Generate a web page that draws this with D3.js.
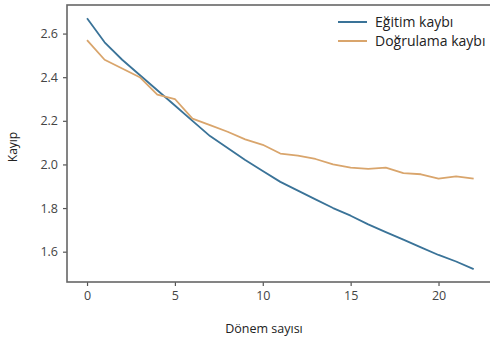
<!DOCTYPE html>
<html><head><meta charset="utf-8">
<script src="https://cdn.jsdelivr.net/npm/d3@7"></script>
<style>
html,body{margin:0;padding:0;background:#fff;}
svg{display:block;}
text{font-family:"Open Sans","Noto Sans",sans-serif;}
</style></head>
<body>
<svg id="c" width="490" height="343"></svg>
<script>
const epochs = d3.range(0, 23);
const trainLoss = [2.67,2.56,2.48,2.41,2.34,2.27,2.20,2.13,2.075,2.02,1.97,1.92,1.88,1.84,1.80,1.765,1.725,1.69,1.655,1.62,1.585,1.555,1.52];
const valLoss = [2.57,2.48,2.44,2.40,2.32,2.30,2.21,2.18,2.15,2.115,2.09,2.05,2.04,2.025,2.00,1.985,1.98,1.985,1.96,1.955,1.935,1.945,1.935];
const xTicks = [0,5,10,15,20];
const yTicks = [1.6,1.8,2.0,2.2,2.4,2.6];
const seriesNames = ["Eğitim kaybı","Doğrulama kaybı"];
const colors = ["#3a7398","#d9a56c"];

const svg = d3.select("#c");
const L = 67, R = 493, T = 5, B = 282;
const x = d3.scaleLinear().domain([-1.14, 23.1]).range([L, R]);
const y = d3.scaleLinear().domain([1.461, 2.731]).range([B, T]);

const tickCol = "#555";
const xa = svg.append("g").attr("transform", `translate(0,${B})`)
  .call(d3.axisBottom(x).tickValues(xTicks).tickFormat(d3.format("d")).tickSize(4).tickPadding(5));
const ya = svg.append("g").attr("transform", `translate(${L},0)`)
  .call(d3.axisLeft(y).tickValues(yTicks).tickFormat(d3.format(".1f")).tickSize(4).tickPadding(5));
[xa, ya].forEach(a => {
  a.select(".domain").remove();
  a.selectAll(".tick line").attr("stroke", tickCol).attr("stroke-width", 1.2);
  a.selectAll(".tick text").attr("fill", "#444").attr("font-size", 12.5).attr("font-family", '"Open Sans",sans-serif');
});

svg.append("rect").attr("x", L).attr("y", T).attr("width", R - L).attr("height", B - T)
  .attr("fill", "none").attr("stroke", "#666").attr("stroke-width", 1.6);

const line = d3.line().x((d, i) => x(epochs[i])).y(d => y(d));
[trainLoss, valLoss].forEach((s, k) => {
  svg.append("path").datum(s).attr("d", line).attr("fill", "none")
    .attr("stroke", colors[k]).attr("stroke-width", 1.8).attr("stroke-linejoin", "round");
});

const lg = svg.append("g");
seriesNames.forEach((n, k) => {
  const yy = 22 + k * 19;
  lg.append("line").attr("x1", 338).attr("x2", 367).attr("y1", yy).attr("y2", yy)
    .attr("stroke", colors[k]).attr("stroke-width", 2);
  lg.append("text").attr("x", 375).attr("y", yy + 5).attr("font-size", 14).attr("fill", "#222").text(n);
});

svg.append("text").attr("x", 264).attr("y", 333).attr("text-anchor", "middle")
  .attr("font-size", 12.5).attr("fill", "#222").text("Dönem sayısı");
svg.append("text").attr("transform", "translate(17,147) rotate(-90)").attr("text-anchor", "middle")
  .attr("font-size", 12).attr("fill", "#222").text("Kayıp");
</script>
</body></html>
